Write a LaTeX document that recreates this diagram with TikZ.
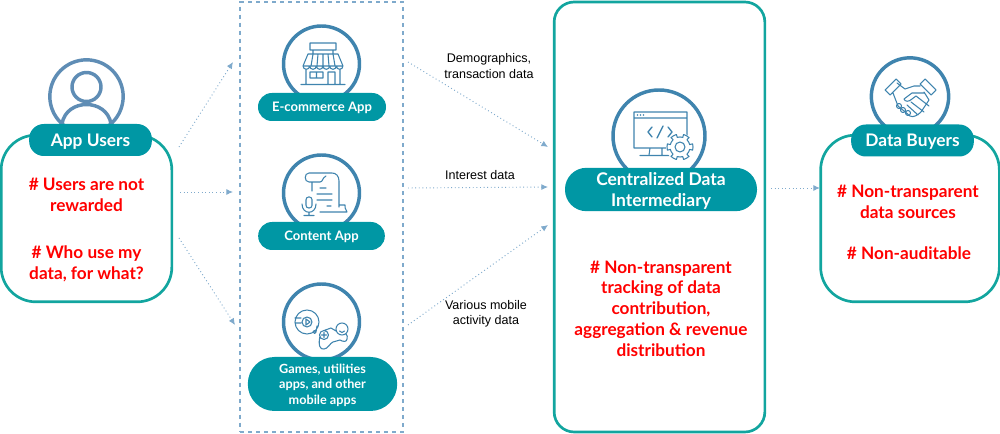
\documentclass[tikz,border=0pt]{standalone}
\usepackage{fontspec}
\setmainfont{Lato}
\newfontfamily\labelfont{Liberation Sans}
\usetikzlibrary{arrows.meta}
\definecolor{pillteal}{HTML}{0097A4}
\definecolor{boxteal}{HTML}{12A59F}
\definecolor{iconblue}{HTML}{3F84AE}
\definecolor{userblue}{HTML}{5F8DB5}
\definecolor{flowblue}{HTML}{7FAACC}
\definecolor{alertred}{HTML}{FF0000}
\begin{document}
\begin{tikzpicture}[x=0.75pt,y=-0.75pt,
  tealbox/.style={draw=boxteal,line width=2pt,fill=white,rounded corners=#1},
  pill/.style={fill=pillteal,text=white,font=\bfseries,align=center,inner sep=0pt,text depth=0pt},
  badge/.style={draw=#1,line width=2.6pt,fill=white,circle,inner sep=0pt},
  badge/.default=iconblue,
  alert/.style={text=alertred,font=\fontsize{12.9}{15.6}\selectfont\bfseries,align=center},
  flowlabel/.style={font=\labelfont\fontsize{9.4}{11.6}\selectfont,align=center},
  flow/.style={draw=flowblue,dotted,line width=0.7pt,-{Latex[length=5pt,width=4.5pt]}},
  icon/.style={draw=iconblue,line width=0.8pt,line join=round,line cap=round}]
\useasboundingbox (0,0) rectangle (1000,434);

\node[draw=flowblue,dashed,line width=1.1pt,minimum width=122pt,minimum height=322.5pt] (appgroup) at (321.5,217) {};

% users
\node[tealbox=26pt,minimum width=128pt,minimum height=125pt] (userbox) at (86.5,218.5) {};
\node[badge=userblue,minimum size=55pt] (userbadge) at (86.5,96.5) {};
\draw[userblue,line width=2.6pt] (86.5,87) circle (14.5);
\draw[userblue,line width=2.6pt] (62,124) .. controls (66,98) and (107,98) .. (111,124);
\node[pill,rounded corners=11pt,minimum width=92pt,minimum height=24pt,font=\fontsize{13}{15}\selectfont\bfseries] (userpill) at (90.5,140) {App Users};
\node[alert] (usernote) at (86.5,194.5) {\# Users are not\\rewarded};
\node[alert] (usernoteb) at (86.5,264) {\# Who use my\\data, for what?};

% apps
\node[badge,minimum size=57pt] (shopbadge) at (321.5,64) {};
\draw[icon] (310,43) rectangle (336,50) (313,50) -- (313,54) (333,50) -- (333,54)
  (308,54) -- (338,54) -- (343,66) -- (303,66) -- cycle
  (303,66) arc (180:0:3.33) arc (180:0:3.33) arc (180:0:3.33)
  arc (180:0:3.33) arc (180:0:3.33) arc (180:0:3.33)
  (313,54) -- (311,66) (318,54) -- (317,66) (323,54) -- (323,66) (328,54) -- (329,66) (333,54) -- (335,66)
  (306,70) -- (306,84) (340,70) -- (340,84) (301,84.5) -- (345,84.5)
  (310,72) rectangle (323,78) (316.5,72) -- (316.5,78) (328,84) -- (328,72) -- (335,72) -- (335,84);
\node[pill,rounded corners=10.4pt,minimum width=96pt,minimum height=21pt,font=\fontsize{9.8}{12}\selectfont\bfseries] (shoppill) at (322,107) {E-commerce App};

\node[badge,minimum size=57pt] (contentbadge) at (321.5,193) {};
\draw[icon] (309,173) -- (332,173) .. controls (336,173) and (339,176) .. (339,181) -- (339,207)
  (309,173) .. controls (304,173) and (304,182) .. (309,182) -- (320,182) .. controls (323,182) and (322,178) .. (326,176)
  (312,182) -- (312,191) (320,212) -- (339,212) -- (347,212) .. controls (345,210) and (345,206) .. (345,205) -- (339,205)
  (320,188) -- (326,188) (317,194) -- (332,194) (317,200) -- (332,200) (327,206) -- (331,206);
\draw[icon,rounded corners=2pt] (306,197) rectangle (312,208);
\draw[icon] (302,204) .. controls (302,215) and (316,215) .. (316,204) (309,212) -- (309,215) (304,215.5) -- (314,215.5);
\node[pill,rounded corners=10.4pt,minimum width=95pt,minimum height=21pt,font=\fontsize{9.8}{12}\selectfont\bfseries] (contentpill) at (321.5,236) {Content App};

\node[badge,minimum size=57pt] (gamebadge) at (321.5,322) {};
\draw[icon] (307,322) circle (12) (307,322) circle (5) (295,318) -- (301,318) (295,323) -- (301,323)
  (306,319) -- (306,325) -- (310,322) -- cycle (317,326) -- (316,332) (314.5,332) circle (1.5)
  (342,329) circle (6) (339.5,331) .. controls (341,333) and (343,333) .. (344.5,331)
  (320,336) .. controls (318,345) and (320,350) .. (324,349) .. controls (328,349) and (330,343) .. (333,342)
  -- (340,340) .. controls (343,342) and (347,342) .. (347,339) .. controls (348,337) and (347,335) .. (346,334)
  (324,330.5) -- (331,328) (331,328) -- (336,331)
  (324,335) circle (4.5) (321.5,335) -- (326.5,335) (324,332.5) -- (324,337.5);
\node[pill,rounded corners=20pt,minimum width=112pt,minimum height=40.5pt,font=\fontsize{9.5}{11.6}\selectfont\bfseries] (gamepill) at (322.5,384) {Games, utilities\\apps, and other\\mobile apps};

% intermediary
\node[tealbox=15pt,minimum width=158pt,minimum height=322.5pt] (hubbox) at (659.5,217) {};
\node[badge,minimum size=69pt] (hubbadge) at (659,136) {};
\draw[icon] (634,112) rectangle (687,148) (634,118) -- (687,118) (650,148) -- (649,155) (662,148) -- (662,155) (640,155.5) -- (670,155.5);
\fill[iconblue] (637.5,115) circle (0.8) (640.5,115) circle (0.8) (643.5,115) circle (0.8);
\draw[icon,line width=1pt] (652,127) -- (648,132) -- (652,137) (668,127) -- (672,132) -- (668,137) (663,126) -- (657,138);
\fill[white] (680,147) circle (14);
\draw[icon] (680,147) circle (5);
\foreach \a in {0,60,...,300}
  \draw[icon] (680,147) ++(\a-14:10) -- ++(\a-14:3) arc (\a-14:\a+14:13) -- ++(\a+14:-3) arc (\a+14:\a+46:10);
\node[pill,rounded corners=16pt,minimum width=144pt,minimum height=32.5pt,font=\fontsize{13.1}{16}\selectfont\bfseries] (hubpill) at (661,189.5) {Centralized Data\\Intermediary};
\node[alert] (hubnote) at (661,308.5) {\# Non-transparent\\tracking of data\\contribution,\\aggregation \& revenue\\distribution};

% buyers
\node[tealbox=26pt,minimum width=134pt,minimum height=125pt] (buyerbox) at (910,218.5) {};
\node[badge,minimum size=58pt] (buyerbadge) at (910,96.5) {};
\draw[icon] (885,90) -- (896,79) -- (901,84) -- (890,95) -- cycle (925,79) -- (936,90) -- (931,95) -- (920,84) -- cycle
  (893,93) -- (898,106) -- (910,116) .. controls (913,118) and (918,115) .. (921,112) -- (929,100) -- (924,92)
  (897,83) -- (905,89) -- (914,86) -- (920,86)
  (924,93) -- (912,93) -- (904,99) .. controls (905,102) and (909,102) .. (912,99) -- (916,96)
  (916,96) -- (929,106) (911,102) -- (924,112) (907,105) -- (918,115);
\draw[icon] (899,106) circle (2.5) (903,110) circle (2.5) (908,113) circle (2.5);
\node[pill,rounded corners=11pt,minimum width=92pt,minimum height=24pt,font=\fontsize{13}{15}\selectfont\bfseries] (buyerpill) at (912.5,140.5) {Data Buyers};
\node[alert] (buyernote) at (908,201.5) {\# Non-transparent\\data sources};
\node[alert] (buyernoteb) at (909,253) {\# Non-auditable};

% connectors
\coordinate (ua) at (179,147);
\coordinate (ub) at (180,192);
\coordinate (uc) at (179,238);
\coordinate (ga) at (233,62);
\coordinate (gb) at (233,192);
\coordinate (gc) at (235,325);
\coordinate (sa) at (408,62);
\coordinate (sb) at (408,188);
\coordinate (sc) at (408,325);
\coordinate (ha) at (548,147);
\coordinate (hb) at (548,187);
\coordinate (hc) at (548,225);
\coordinate (hd) at (771,188);
\coordinate (bd) at (820,188);
\draw[flow] (ua) -- (ga);
\draw[flow] (ub) -- (gb);
\draw[flow] (uc) -- (gc);
\draw[flow] (sa) -- (ha);
\draw[flow] (sb) -- (hb);
\draw[flow] (sc) -- (hc);
\draw[flow] (hd) -- (bd);

\node[flowlabel] (demolabel) at (489,66) {Demographics,\\transaction data};
\node[flowlabel] (interestlabel) at (480,175.5) {Interest data};
\node[flowlabel] (activitylabel) at (486,314) {Various mobile\\activity data};
\end{tikzpicture}
\end{document}
